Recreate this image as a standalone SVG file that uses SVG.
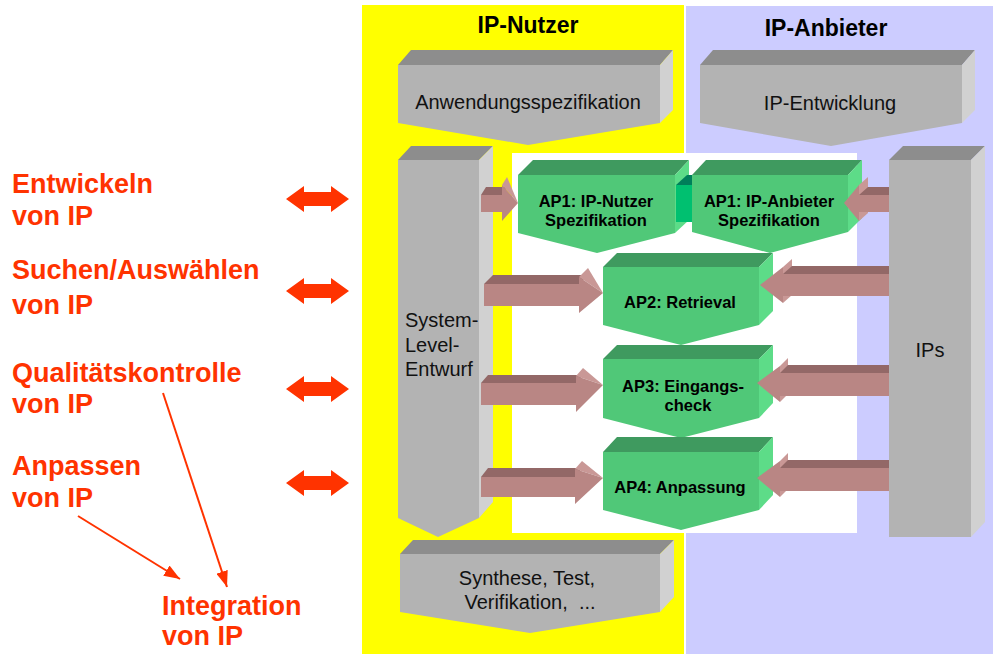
<svg xmlns="http://www.w3.org/2000/svg" width="993" height="654" viewBox="0 0 993 654">
  <style>
    .g-top { fill: #8d8d8d; }
    .g-front { fill: #b3b3b3; }
    .g-side { fill: #d1d1d1; }
    .n-top { fill: #3f9a5f; }
    .n-front { fill: #50c878; }
    .n-side { fill: #5ddc88; }
    .a-top { fill: #936867; }
    .a-front { fill: #b98684; }
    .a-light { fill: #c99896; }
    .lbl { font-family: "Liberation Sans", Arial, sans-serif; font-size: 20px; fill: #111; white-space: pre; }
    .hdr { font-family: "Liberation Sans", Arial, sans-serif; font-size: 23px; font-weight: bold; fill: #000; text-anchor: middle; }
    .ap { font-family: "Liberation Sans", Arial, sans-serif; font-size: 16.5px; font-weight: bold; fill: #000; text-anchor: middle; }
    .act { font-family: "Liberation Sans", Arial, sans-serif; font-size: 27px; font-weight: bold; fill: #ff3300; }
    .mid { text-anchor: middle; }
    .thin { stroke: #ff3300; stroke-width: 2; fill: none; }
  </style>
  <defs>
    <path id="dbl" d="M286,0 L304,-13 L304,-7 L331,-7 L331,-13 L349,0 L331,13 L331,7 L304,7 L304,13 Z" fill="#ff3300"/>
    <marker id="head" viewBox="0 0 16 12" refX="16" refY="6" markerWidth="16" markerHeight="12" markerUnits="userSpaceOnUse" orient="auto">
      <path d="M0,0 L16,6 L0,12 Z" fill="#ff3300"/>
    </marker>
  </defs>

  <!-- swim lanes -->
  <rect width="993" height="654" fill="#ffffff"/>
  <rect x="362" y="5" width="322" height="649" fill="#ffff00"/>
  <rect x="686" y="6" width="307" height="648" fill="#ccccff"/>
  <rect x="512" y="153" width="345" height="380" fill="#ffffff"/>

  <text class="hdr" x="528" y="33">IP-Nutzer</text>
  <text class="hdr" x="826" y="36">IP-Anbieter</text>

  <!-- process blocks -->
  <g id="anwendungsspezifikation">
    <polygon class="g-top" points="398,65 411,50 673,50 660,65"/>
    <polygon class="g-front" points="398,65 660,65 660,123 528,145 398,123"/>
    <polygon class="g-side" points="660,65 673,50 673,110 660,123"/>
    <text class="lbl mid" x="528" y="109">Anwendungsspezifikation</text>
  </g>
  <g id="ip-entwicklung">
    <polygon class="g-top" points="700,65 713,50 975,50 962,65"/>
    <polygon class="g-front" points="700,65 962,65 962,123 831,146 700,123"/>
    <polygon class="g-side" points="962,65 975,50 975,110 962,123"/>
    <text class="lbl mid" x="830" y="110">IP-Entwicklung</text>
  </g>
  <g id="system-level-entwurf">
    <polygon class="g-top" points="398,160 411,146 493,146 479,160"/>
    <polygon class="g-front" points="398,160 479,160 479,518 438,537 398,518"/>
    <polygon class="g-side" points="479,160 493,146 493,502 479,518"/>
    <text class="lbl" x="405" y="327">System-</text>
    <text class="lbl" x="405" y="352">Level-</text>
    <text class="lbl" x="405" y="376">Entwurf</text>
  </g>
  <g id="ips">
    <polygon class="g-top" points="889,160 903,146 985,146 971,160"/>
    <rect class="g-front" x="889" y="160" width="82" height="377"/>
    <polygon class="g-side" points="971,160 985,146 985,522 971,537"/>
    <text class="lbl mid" x="930" y="357">IPs</text>
  </g>
  <g id="synthese">
    <polygon class="g-top" points="400,554 413,540 674,540 660,554"/>
    <polygon class="g-front" points="400,554 660,554 660,612 530,633 400,612"/>
    <polygon class="g-side" points="660,554 674,540 674,597 660,612"/>
    <text class="lbl mid" x="527" y="585">Synthese, Test,</text>
    <text class="lbl mid" x="530" y="609" xml:space="preserve">Verifikation,  ...</text>
  </g>

  <!-- work packages -->
  <g id="ap1-nutzer">
    <polygon class="n-top" points="518,175 533,160 689,160 675,175"/>
    <polygon class="n-front" points="518,175 675,175 675,233 597,253 518,233"/>
    <polygon class="n-side" points="675,175 689,160 689,220 675,233"/>
    <text class="ap" x="596" y="207">AP1: IP-Nutzer</text>
    <text class="ap" x="596" y="226">Spezifikation</text>
  </g>
  <g id="ap1-link">
    <polygon fill="#007f5a" points="676,185 687,175 703,175 692,185"/>
    <rect fill="#00c070" x="676" y="185" width="16" height="37"/>
  </g>
  <g id="ap1-anbieter">
    <polygon class="n-top" points="692,175 706,160 862,160 848,175"/>
    <polygon class="n-front" points="692,175 848,175 848,232 770,253 692,232"/>
    <polygon class="n-side" points="848,175 862,160 862,218 848,232"/>
    <text class="ap" x="769" y="207">AP1: IP-Anbieter</text>
    <text class="ap" x="769" y="226">Spezifikation</text>
  </g>
  <g id="ap2">
    <polygon class="n-top" points="603,267 617,253 773,253 759,267"/>
    <polygon class="n-front" points="603,267 759,267 759,325 681,345 603,325"/>
    <polygon class="n-side" points="759,267 773,253 773,311 759,325"/>
    <text class="ap" x="680" y="308">AP2: Retrieval</text>
  </g>
  <g id="ap3">
    <polygon class="n-top" points="603,359 617,345 773,345 759,359"/>
    <polygon class="n-front" points="603,359 759,359 759,418 681,438 603,418"/>
    <polygon class="n-side" points="759,359 773,345 773,403 759,418"/>
    <text class="ap" x="683" y="392">AP3: Eingangs-</text>
    <text class="ap" x="688" y="411">check</text>
  </g>
  <g id="ap4">
    <polygon class="n-top" points="603,452 617,437 773,437 759,452"/>
    <polygon class="n-front" points="603,452 759,452 759,510 681,530 603,510"/>
    <polygon class="n-side" points="759,452 773,437 773,495 759,510"/>
    <text class="ap" x="680" y="493">AP4: Anpassung</text>
  </g>

  <!-- activity labels -->
  <g id="labels">
    <text class="act" x="12" y="193">Entwickeln</text>
    <text class="act" x="12" y="225">von IP</text>
    <text class="act" x="12" y="279">Suchen/Auswählen</text>
    <text class="act" x="12" y="314">von IP</text>
    <text class="act" x="12" y="382">Qualitätskontrolle</text>
    <text class="act" x="12" y="413">von IP</text>
    <text class="act" x="12" y="475">Anpassen</text>
    <text class="act" x="12" y="507">von IP</text>
    <text class="act" x="162" y="615">Integration</text>
    <text class="act" x="162" y="645">von IP</text>
  </g>

  <g id="connectors">
    <!-- block arrows from the system-level design -->
    <polygon class="a-top" points="481,195 486,187 507,187 502,195"/>
    <polygon class="a-light" points="502,185 507,177 518,203"/>
    <polygon class="a-front" points="481,195 502,195 502,185 518,203 502,221 502,212 481,212"/>

    <polygon class="a-top" points="484,284 493,275 588,275 579,284"/>
    <polygon class="a-light" points="579,277 588,268 603,293"/>
    <polygon class="a-front" points="484,284 579,284 579,277 603,293 579,313 579,306 484,306"/>

    <polygon class="a-top" points="481,383 488,375 583,375 576,383"/>
    <polygon class="a-light" points="576,376 583,368 603,385"/>
    <polygon class="a-front" points="481,383 576,383 576,376 603,385 576,412 576,405 481,405"/>

    <polygon class="a-top" points="481,477 488,468 582,468 575,477"/>
    <polygon class="a-light" points="575,469 582,461 603,478"/>
    <polygon class="a-front" points="481,477 575,477 575,469 603,478 575,504 575,497 481,497"/>

    <!-- block arrows from the IP pool -->
    <polygon class="a-light" points="859,185 868,177 868,213 859,221"/>
    <polygon class="a-top" points="859,195 868,187 889,187 889,195"/>
    <polygon class="a-front" points="889,195 859,195 859,185 844,203 859,221 859,212 889,212"/>

    <polygon class="a-light" points="783,267 792,259 792,295 783,303"/>
    <polygon class="a-top" points="783,274 792,266 889,266 889,274"/>
    <polygon class="a-front" points="889,274 783,274 783,267 760,285 783,303 783,296 889,296"/>

    <polygon class="a-light" points="780,366 788,358 788,394 780,402"/>
    <polygon class="a-top" points="780,373 788,365 889,365 889,373"/>
    <polygon class="a-front" points="889,373 780,373 780,366 757,383 780,402 780,396 889,396"/>

    <polygon class="a-light" points="780,461 788,453 788,489 780,497"/>
    <polygon class="a-top" points="780,468 788,460 889,460 889,468"/>
    <polygon class="a-front" points="889,468 780,468 780,461 757,478 780,497 780,491 889,491"/>

    <!-- double arrows linking activities to the flow -->
    <use href="#dbl" y="199"/>
    <use href="#dbl" y="291"/>
    <use href="#dbl" y="389"/>
    <use href="#dbl" y="483"/>

    <!-- thin arrows towards integration -->
    <line class="thin" x1="78" y1="516" x2="180" y2="579" marker-end="url(#head)"/>
    <line class="thin" x1="163" y1="393" x2="227" y2="587" marker-end="url(#head)"/>
  </g>
</svg>
